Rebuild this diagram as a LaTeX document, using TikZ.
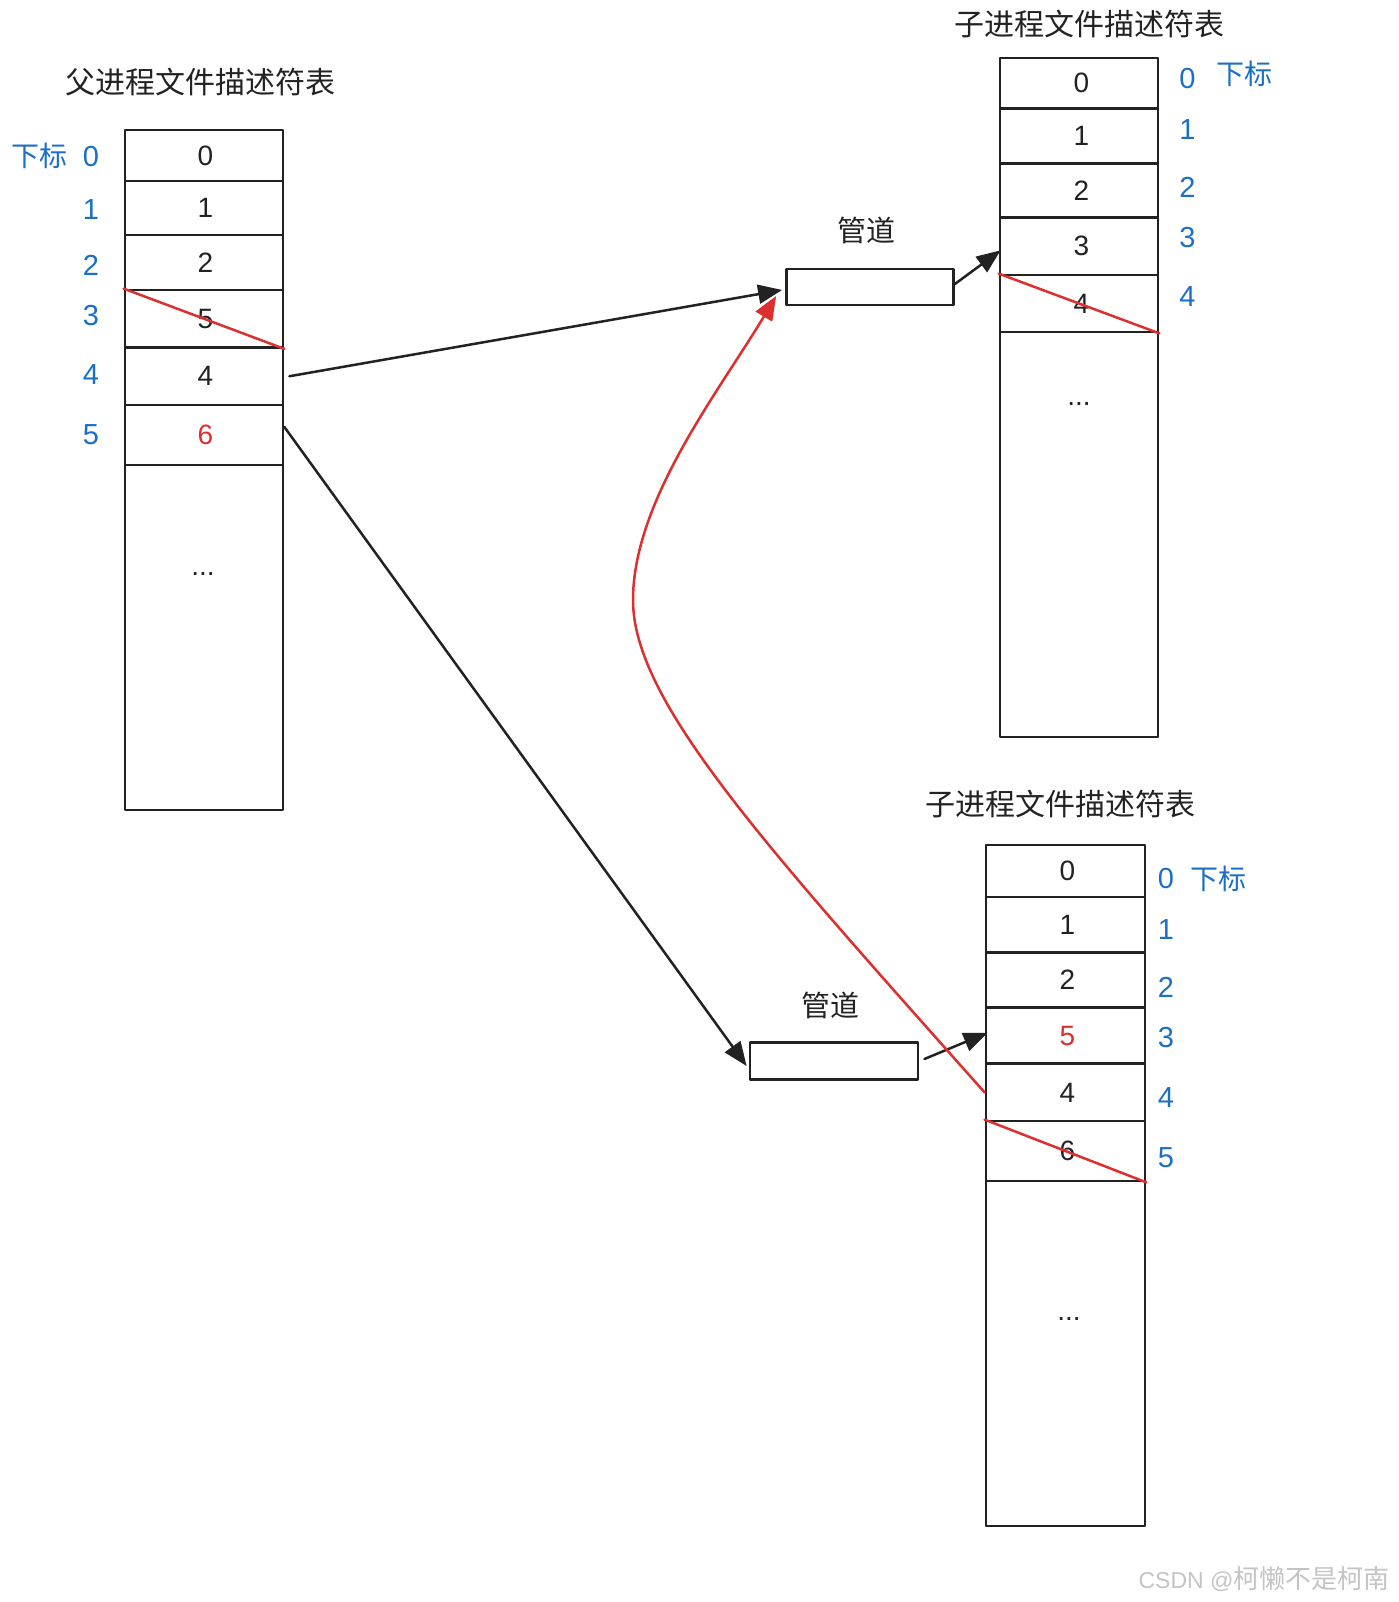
\documentclass[tikz,border=0pt]{standalone}
\usepackage{fontspec}
\setmainfont{Liberation Sans}
\newfontfamily\cjk{Noto Sans CJK SC}
\usetikzlibrary{arrows.meta,calc}
\definecolor{ink}{HTML}{222222}
\definecolor{idxblue}{HTML}{1C6FC6}
\definecolor{pipered}{HTML}{DE2F2F}
\definecolor{wmgray}{HTML}{C4C4C4}

\begin{document}
\begin{tikzpicture}[x=1pt,y=-1pt,line cap=round,line join=round,
  cell/.style={draw=ink,line width=2.8pt,inner sep=0pt,text=ink,
    font=\fontsize{28}{30}\selectfont},
  idx/.style={text=idxblue,inner sep=0pt,font=\fontsize{29}{31}\selectfont},
  idxword/.style={text=idxblue,inner sep=0pt,font=\cjk\fontsize{28}{30}\selectfont},
  title/.style={text=ink,inner sep=0pt,font=\cjk\fontsize{30}{32}\selectfont},
  pipebox/.style={draw=ink,line width=2.8pt,inner sep=0pt},
  link/.style={ink,line width=2.5pt,-{Triangle[length=24pt,width=19pt]}},
  cross/.style={pipered,line width=2.5pt}]
  \fill[white] (0,0) rectangle (1398,1602);
  \useasboundingbox (0,0) rectangle (1398,1602);

  % parent table
  \node[title] (ltitle) at (200,82) {父进程文件描述符表};
  \foreach \n/\t/\b/\v in {0/130/181/0,1/181/235/1,2/235/290/2,3/290/347.5/5,
      4/347.5/405/4,5/405/465/\textcolor{pipered}{6},6/465/810/{}}
    \node[cell,minimum width=158pt,minimum height={(\b-\t)*1pt}]
      (L\n) at (204,{(\t+\b)/2}) {\hspace*{3pt}\v};
  \node[cell,draw=none] (ldots) at (203,574) {...};
  \node[idxword] (lword) at (39,156) {下标};
  \foreach \n/\y in {0/157,1/209.5,2/265,3/316,4/375,5/435}
    \node[idx] (li\n) at (91,\y) {\n};

  % child table, top
  \node[title] (rtitle) at (1089,24) {子进程文件描述符表};
  \foreach \n/\t/\b/\v in {0/58/108.3/0,1/108.3/163.5/1,2/163.5/217.7/2,
      3/217.7/275/3,4/275/332/4,5/332/737/{}}
    \node[cell,minimum width=158pt,minimum height={(\b-\t)*1pt}]
      (R\n) at (1079,{(\t+\b)/2}) {\hspace*{5pt}\v};
  \node[cell,draw=none] (rdots) at (1079,404) {...};
  \node[idxword] (rword) at (1244,74) {下标};
  \foreach \n/\y in {0/79,1/130,2/187,3/238,4/297}
    \node[idx] (ri\n) at (1187.5,\y) {\n};

  % child table, bottom
  \node[title] (btitle) at (1060,804) {子进程文件描述符表};
  \foreach \n/\t/\b/\v in {0/845/897/0,1/897/952.4/1,2/952.4/1007.6/2,
      3/1007.6/1063.8/\textcolor{pipered}{5},4/1063.8/1121/4,5/1121/1181/6,
      6/1181/1526/{}}
    \node[cell,minimum width=159pt,minimum height={(\b-\t)*1pt}]
      (B\n) at (1065.5,{(\t+\b)/2}) {\hspace*{4pt}\v};
  \node[cell,draw=none] (bdots) at (1069,1319) {...};
  \node[idxword] (bword) at (1218,879) {下标};
  \foreach \n/\y in {0/879,1/930,2/987,3/1038,4/1097.5,5/1158}
    \node[idx] (bi\n) at (1166,\y) {\n};

  % pipes
  \node[pipebox,minimum width=167pt,minimum height=36pt] (pipeA) at (870,287) {};
  \node[title,font=\cjk\fontsize{29}{31}\selectfont] (pipeAlabel) at (866,230) {管道};
  \node[pipebox,minimum width=168pt,minimum height=37pt] (pipeB) at (834,1061) {};
  \node[title,font=\cjk\fontsize{29}{31}\selectfont] (pipeBlabel) at (830,1005) {管道};

  % closed descriptors
  \draw[cross] (L3.north west) -- (L3.south east);
  \draw[cross] (R4.north west) -- (R4.south east);
  \draw[cross] (B5.north west) -- (B5.south east);

  % connections
  \draw[link] ([xshift=5pt]L4.east) -- ([xshift=-3pt,yshift=-3pt]pipeA.west);
  \draw[link] ([yshift=8pt]L5.east) -- ([xshift=-2pt,yshift=-5pt]pipeB.west);
  \draw[link] ([yshift=3pt]pipeA.east) -- ([xshift=2pt,yshift=-4pt]R3.west);
  \draw[link] ([xshift=5pt,yshift=2pt]pipeB.east) -- ([xshift=3pt,yshift=3pt]B3.west);

  \coordinate (bend) at (633,600);
  \coordinate (redtip) at ([xshift=-9pt,yshift=-9pt]pipeA.west);
  \draw[cross,-{Triangle[length=24pt,width=19pt]}] (B4.west)
    .. controls (760,840) and (633,700) .. (bend)
    .. controls (633,500) and (720,390) .. (redtip);

  \node[text=wmgray,inner sep=0pt,font=\fontsize{23}{25}\selectfont] (mark) at (1264,1579)
    {CSDN @{\cjk\fontsize{26}{28}\selectfont 柯懒不是柯南}};
\end{tikzpicture}
\end{document}
